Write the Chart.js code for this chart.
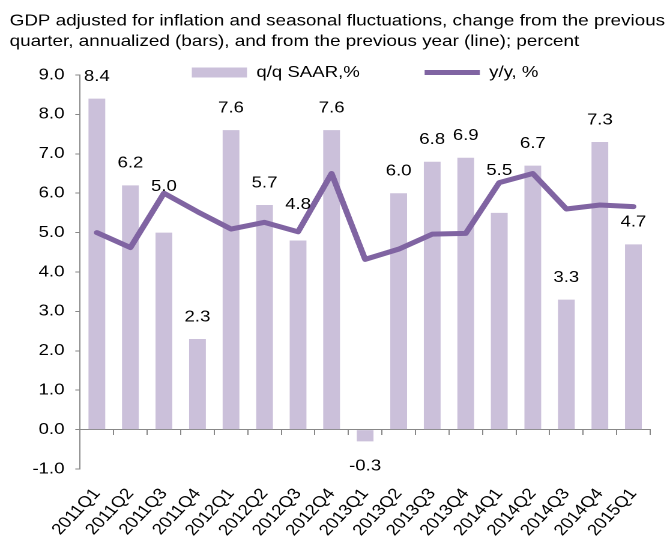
<!DOCTYPE html>
<html>
<head>
<meta charset="utf-8">
<script src="https://cdn.jsdelivr.net/npm/chart.js@4.4.1/dist/chart.umd.min.js"></script>
<style>
  html, body { margin: 0; padding: 0; background: #fff; }
</style>
</head>
<body>
<!-- drawn 558 wide and shown 670 wide: the reference is stretched sideways -->
<canvas id="c" width="558" height="542" style="width:670px;height:542px"></canvas>
<script>
const quarters = ['2011Q1', '2011Q2', '2011Q3', '2011Q4', '2012Q1', '2012Q2', '2012Q3', '2012Q4',
    '2013Q1', '2013Q2', '2013Q3', '2013Q4', '2014Q1', '2014Q2', '2014Q3', '2014Q4', '2015Q1']
const qoq = [8.4, 6.2, 5.0, 2.3, 7.6, 5.7, 4.8, 7.6, -0.3, 6.0, 6.8, 6.9, 5.5, 6.7, 3.3, 7.3, 4.7]
const yoy = [5.0, 4.62, 6.0, 5.53, 5.09, 5.26, 5.02, 6.5, 4.32, 4.58, 4.96, 4.98, 6.27, 6.5, 5.6, 5.7, 5.66]
const yMin = -1
const yMax = 9

Chart.defaults.font.family = '"Liberation Sans", Arial, sans-serif'
Chart.defaults.font.size = 15.5
Chart.defaults.color = '#000'

// legend sits inside the top of the plot, as in the picture
const legendPlace = {
    id: 'legendPlace',
    afterLayout(chart) {
        const lg = chart.legend
        const ca = chart.chartArea
        const pad = lg.options.labels.padding
        lg.left = ca.left
        lg.right = ca.right
        lg.width = ca.right - ca.left
        lg.top = 72.5 - pad - 7.75
        lg.bottom = lg.top + pad + 30
        lg.height = lg.bottom - lg.top
    }
}

// value labels over the bars
const barLabels = {
    id: 'barLabels',
    afterDatasetsDraw(chart, args, opts) {
        const ctx = chart.ctx
        const meta = chart.getDatasetMeta(0)
        ctx.save()
        ctx.font = '15.5px "Liberation Sans", Arial, sans-serif'
        ctx.fillStyle = '#000'
        ctx.textAlign = 'center'
        ctx.textBaseline = 'middle'
        meta.data.forEach(function(bar, i) {
            const v = qoq[i]
            const lift = opts.lift[i] || 0
            const y = v >= 0 ? bar.y - 22 - lift : bar.y + 25
            ctx.fillText(v.toFixed(1), bar.x, y)
        })
        ctx.restore()
    }
}

new Chart(document.getElementById('c'), {
    type: 'bar',
    data: {
        labels: quarters,
        datasets: [{
            type: 'bar',
            label: 'q/q SAAR,%',
            data: qoq,
            backgroundColor: '#CBC0DA',
            borderWidth: 0,
            barPercentage: 0.5,
            categoryPercentage: 1,
            order: 1
        }, {
            type: 'line',
            label: 'y/y, %',
            data: yoy,
            borderColor: '#8064A2',
            backgroundColor: '#8064A2',
            borderWidth: 5,
            pointRadius: 0,
            tension: 0,
            borderCapStyle: 'round',
            borderJoinStyle: 'round',
            order: 0
        }]
    },
    plugins: [legendPlace, barLabels],
    options: {
        responsive: false,
        devicePixelRatio: 2,
        animation: false,
        layout: {
            padding: { left: 8, right: 1, top: 0, bottom: 0 }
        },
        plugins: {
            title: {
                display: true,
                align: 'start',
                text: [
                    'GDP adjusted for inflation and seasonal fluctuations, change from the previous',
                    'quarter, annualized (bars), and from the previous year (line); percent'
                ],
                color: '#000',
                font: { size: 15.7, weight: 'normal', lineHeight: 1.293 },
                padding: { top: 11, bottom: 23.4 }
            },
            legend: {
                maxHeight: 0.01,
                labels: {
                    usePointStyle: true,
                    pointStyleWidth: 46,
                    boxHeight: 10,
                    padding: 54,
                    color: '#000',
                    sort: (a, b) => a.datasetIndex - b.datasetIndex,
                    generateLabels: function(chart) {
                        return Chart.defaults.plugins.legend.labels.generateLabels(chart).map(function(item) {
                            item.pointStyle = item.datasetIndex === 0 ? 'rect' : 'line'
                            return item
                        })
                    }
                }
            },
            tooltip: { enabled: false },
            barLabels: {
                lift: { 2: 24, 6: 14, 12: 20 }
            }
        },
        scales: {
            x: {
                grid: { display: false, drawTicks: false },
                border: { display: false },
                ticks: { minRotation: 51, maxRotation: 51, padding: 16, autoSkip: false },
                afterFit: function(scale) { scale.height = 73 }
            },
            x2: {
                type: 'category',
                position: { y: 0 },
                offset: true,
                grid: { offset: true, drawOnChartArea: false, tickLength: 5, color: '#888' },
                border: { color: '#888' },
                ticks: { display: false }
            },
            y: {
                min: yMin,
                max: yMax,
                ticks: {
                    stepSize: 1,
                    padding: 9,
                    callback: v => v.toFixed(1)
                },
                grid: { drawOnChartArea: false, tickLength: 4, color: '#888' },
                border: { color: '#888' },
                afterFit: function(scale) { scale.width = 58.7 }
            }
        }
    }
})
</script>
</body>
</html>
